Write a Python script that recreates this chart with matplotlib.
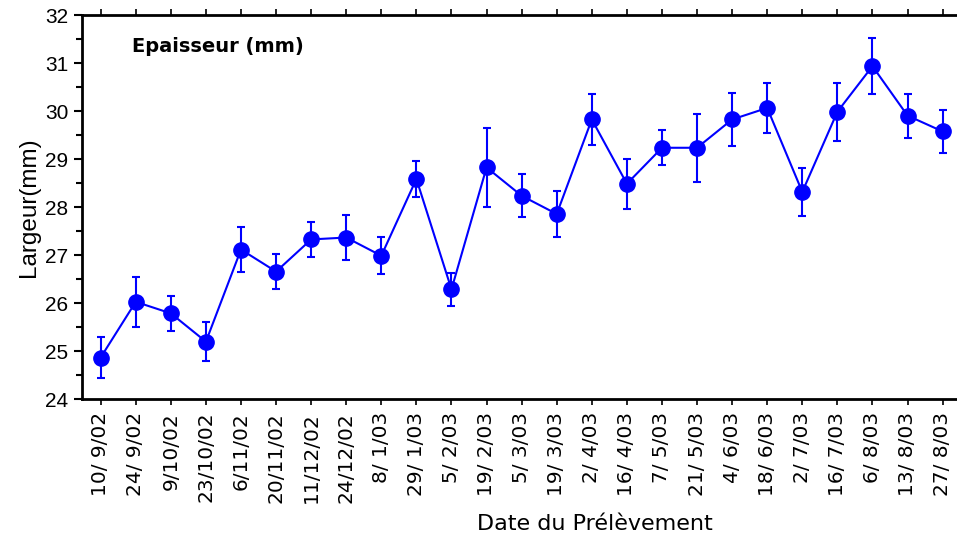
import matplotlib
matplotlib.use("Agg")
import matplotlib.pyplot as plt
from matplotlib.ticker import MultipleLocator

plt.rcParams['font.family'] = ['Liberation Sans', 'DejaVu Sans']

# sampling dates
dates = ["10/ 9/02", "24/ 9/02", "9/10/02", "23/10/02", "6/11/02", "20/11/02",
         "11/12/02", "24/12/02", "8/ 1/03", "29/ 1/03", "5/ 2/03", "19/ 2/03",
         "5/ 3/03", "19/ 3/03", "2/ 4/03", "16/ 4/03", "7/ 5/03", "21/ 5/03",
         "4/ 6/03", "18/ 6/03", "2/ 7/03", "16/ 7/03", "6/ 8/03", "13/ 8/03",
         "27/ 8/03"]

# mean width (mm) and standard deviation
largeur = [24.87, 26.03, 25.79, 25.20, 27.12, 26.66, 27.33, 27.37, 26.99, 28.59,
           26.29, 28.83, 28.24, 27.86, 29.83, 28.49, 29.24, 29.24, 29.83, 30.07,
           28.32, 29.99, 30.94, 29.91, 29.58]
ecart = [0.42, 0.52, 0.37, 0.40, 0.47, 0.37, 0.37, 0.46, 0.39, 0.37,
         0.35, 0.83, 0.45, 0.48, 0.54, 0.52, 0.36, 0.71, 0.56, 0.52,
         0.50, 0.60, 0.58, 0.46, 0.45]

x = list(range(len(dates)))

fig = plt.figure(figsize=(9.57, 5.41), dpi=100)
ax = fig.add_axes([0.0854, 0.262, 0.9146, 0.7097])

ax.errorbar(x, largeur, yerr=ecart, color="#0000ff", ecolor="#0000ff",
            marker="o", markersize=11, linewidth=1.5, elinewidth=1.5,
            capsize=3, capthick=1.5)

ax.set_xlim(-0.54, 24.41)
ax.set_ylim(24, 32)
ax.set_xticks(x)
ax.set_xticklabels(dates, rotation=90, fontsize=14.5, family="DejaVu Sans")
ax.yaxis.set_major_locator(MultipleLocator(1))
ax.yaxis.set_minor_locator(MultipleLocator(0.5))
ax.tick_params(axis="y", labelsize=15, width=1.5, length=6, direction="out")
ax.tick_params(axis="y", which="minor", width=1.5, length=4)
ax.tick_params(axis="x", top=True, width=1.2, length=4, direction="out", pad=5)

for side in ("left", "top", "bottom"):
    ax.spines[side].set_linewidth(2)
ax.spines["right"].set_visible(False)

ax.set_ylabel("Largeur(mm)", fontsize=17.5, labelpad=4)
fig.text(0.622, 0.031, "Date du Prélèvement", fontsize=16,
         family="DejaVu Sans", ha="center", va="center")

ax.text(0.058, 0.918, "Epaisseur (mm)", transform=ax.transAxes,
        fontsize=14, fontweight="bold", family="DejaVu Sans", va="center")

fig.savefig("out.png", dpi=100)
